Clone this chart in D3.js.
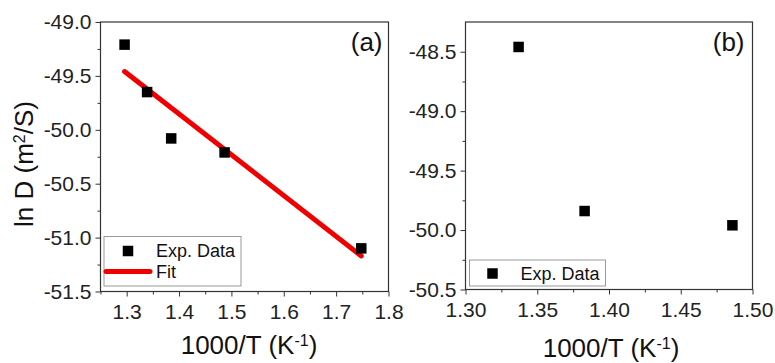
<!DOCTYPE html>
<html>
<head>
<meta charset="utf-8">
<script src="https://cdn.jsdelivr.net/npm/d3@7"></script>
<style>
  body { margin: 0; background: #fff; }
  svg { display: block; font-family: "Liberation Sans", Arial, sans-serif; }
</style>
</head>
<body>
<svg id="chart" width="775" height="363"></svg>
<script>
// panel (a): measured points and linear fit
const xA = [1.296, 1.339, 1.385, 1.487, 1.748];
const yA = [-49.21, -49.65, -50.08, -50.21, -51.10];
const fitXA = [1.296, 1.748];
const fitYA = [-49.46, -51.17];
const xTicksA = [1.3, 1.4, 1.5, 1.6, 1.7, 1.8];
const yTicksA = [-49.0, -49.5, -50.0, -50.5, -51.0, -51.5];

// panel (b): measured points only
const xB = [1.337, 1.383, 1.486];
const yB = [-48.46, -49.84, -49.96];
const xTicksB = [1.30, 1.35, 1.40, 1.45, 1.50];
const yTicksB = [-48.5, -49.0, -49.5, -50.0, -50.5];

const svg = d3.select('#chart');
const S = 10.5; // marker size

function drawPanel(cfg) {
  const x = d3.scaleLinear().domain(cfg.xDomain).range([cfg.left, cfg.right]);
  const y = d3.scaleLinear().domain(cfg.yDomain).range([cfg.bottom, cfg.top]);
  const g = svg.append('g');

  // minor ticks
  g.append('g')
    .attr('transform', `translate(0,${cfg.bottom})`)
    .call(d3.axisBottom(x).tickValues(cfg.xMinor).tickSize(3).tickFormat(''))
    .call(a => a.select('.domain').remove());
  g.append('g')
    .attr('transform', `translate(${cfg.left},0)`)
    .call(d3.axisLeft(y).tickValues(cfg.yMinor).tickSize(3).tickFormat(''))
    .call(a => a.select('.domain').remove());

  // major ticks + labels
  g.append('g')
    .attr('transform', `translate(0,${cfg.bottom})`)
    .call(d3.axisBottom(x).tickValues(cfg.xTicks).tickSize(5).tickPadding(8).tickFormat(d3.format(cfg.xFmt)))
    .call(a => a.select('.domain').remove())
    .call(a => a.selectAll('text').style('font-size', '21px').attr('fill', '#222'));
  g.append('g')
    .attr('transform', `translate(${cfg.left},0)`)
    .call(d3.axisLeft(y).tickValues(cfg.yTicks).tickSize(5).tickPadding(4).tickFormat(d => d3.format('.1f')(d).replace('−', '-')))
    .call(a => a.select('.domain').remove())
    .call(a => a.selectAll('text').style('font-size', '21px').attr('fill', '#222'));
  g.selectAll('.tick line').attr('stroke', '#333');

  // frame
  g.append('rect')
    .attr('x', cfg.left).attr('y', cfg.top)
    .attr('width', cfg.right - cfg.left).attr('height', cfg.bottom - cfg.top)
    .attr('fill', 'none').attr('stroke', '#333').attr('stroke-width', 1.2);

  // fit line
  if (cfg.fitX) {
    g.append('path')
      .datum(cfg.fitX.map((d, i) => [d, cfg.fitY[i]]))
      .attr('d', d3.line().x(d => x(d[0])).y(d => y(d[1])))
      .attr('stroke', '#f00000').attr('stroke-width', 5)
      .attr('stroke-linecap', 'round').attr('fill', 'none');
  }

  // points
  g.selectAll('.pt')
    .data(cfg.xs.map((d, i) => [d, cfg.ys[i]]))
    .enter().append('rect')
    .attr('x', d => x(d[0]) - S / 2).attr('y', d => y(d[1]) - S / 2)
    .attr('width', S).attr('height', S).attr('fill', '#000');

  // panel tag
  g.append('text')
    .attr('x', cfg.right - cfg.tagInset).attr('y', cfg.top + 29)
    .attr('text-anchor', 'end').style('font-size', '26px').attr('fill', '#111')
    .text(cfg.tag);

  // x title
  const xt = g.append('text')
    .attr('x', cfg.xTitleX).attr('y', cfg.xTitleY)
    .attr('text-anchor', 'middle').style('font-size', '26px').attr('fill', '#111');
  xt.append('tspan').text('1000/T (K');
  xt.append('tspan').attr('baseline-shift', 'super').style('font-size', '16px').text('-1');
  xt.append('tspan').text(')');

  // legend
  const lg = cfg.legend;
  g.append('rect')
    .attr('x', lg.x).attr('y', lg.y).attr('width', lg.w).attr('height', lg.h)
    .attr('fill', '#fff').attr('stroke', '#999').attr('stroke-width', 1);
  lg.items.forEach((it, i) => {
    const cy = lg.y + lg.first + i * 20.5;
    if (it.type === 'square') {
      g.append('rect').attr('x', lg.x + lg.sym - S / 2).attr('y', cy - S / 2)
        .attr('width', S).attr('height', S).attr('fill', '#000');
    } else {
      g.append('line').attr('x1', lg.x + 2).attr('x2', lg.x + lg.sym * 2 - 2)
        .attr('y1', cy).attr('y2', cy)
        .attr('stroke', '#f00000').attr('stroke-width', 5).attr('stroke-linecap', 'round');
    }
    g.append('text').attr('x', lg.x + lg.textX).attr('y', cy + 6)
      .style('font-size', '18px').attr('fill', '#111').text(it.label);
  });
}

drawPanel({
  left: 100.5, right: 388.5, top: 22, bottom: 291.5,
  xDomain: [1.25, 1.8], yDomain: [-51.5, -49.0],
  xTicks: xTicksA, yTicks: yTicksA, xFmt: '.1f',
  xMinor: [1.25, 1.35, 1.45, 1.55, 1.65, 1.75],
  yMinor: [-49.25, -49.75, -50.25, -50.75, -51.25],
  xs: xA, ys: yA, fitX: fitXA, fitY: fitYA, tag: '(a)', tagInset: 6,
  xTitleX: 249, xTitleY: 354,
  legend: { x: 104, y: 236.5, w: 137, h: 49.5, sym: 24, textX: 52, first: 14.5,
    items: [{ type: 'square', label: 'Exp. Data' }, { type: 'line', label: 'Fit' }] }
});

drawPanel({
  left: 465.5, right: 752.5, top: 22, bottom: 289.5,
  xDomain: [1.30, 1.50], yDomain: [-50.5, -48.25],
  xTicks: xTicksB, yTicks: yTicksB, xFmt: '.2f',
  xMinor: [1.325, 1.375, 1.425, 1.475],
  yMinor: [-48.75, -49.25, -49.75, -50.25],
  xs: xB, ys: yB, tag: '(b)', tagInset: 8,
  xTitleX: 611, xTitleY: 357,
  legend: { x: 469.5, y: 260, w: 136, h: 26, sym: 23, textX: 51, first: 13.5,
    items: [{ type: 'square', label: 'Exp. Data' }] }
});

// shared y title
const yt = svg.append('text')
  .attr('transform', 'translate(33,164) rotate(-90)')
  .attr('text-anchor', 'middle').style('font-size', '26px').attr('fill', '#111');
yt.append('tspan').text('ln D (m');
yt.append('tspan').attr('baseline-shift', 'super').style('font-size', '16px').text('2');
yt.append('tspan').text('/S)');
</script>
</body>
</html>
